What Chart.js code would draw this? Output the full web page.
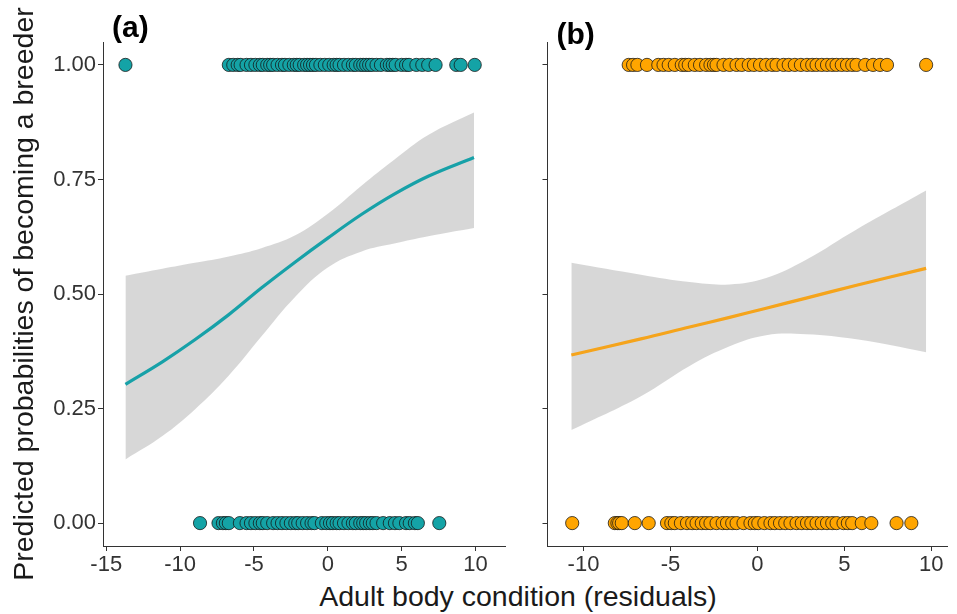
<!DOCTYPE html>
<html>
<head>
<meta charset="utf-8">
<script src="https://cdn.jsdelivr.net/npm/chart.js@4.4.0/dist/chart.umd.min.js"></script>
<style>
  body { margin: 0; background: #fff; width: 957px; height: 614px; position: relative; overflow: hidden; }
  canvas { position: absolute; top: 0; }
  #chartA { left: 0; }
  #chartB { left: 520px; }
  #xTitle {
    position: absolute; left: 268px; width: 500px; top: 582px; line-height: 28.5px;
    text-align: center; font-size: 28.5px; font-family: "Liberation Sans", Arial, sans-serif; color: #1a1a1a;
  }
</style>
</head>
<body>
<canvas id="chartA" width="515" height="580"></canvas>
<canvas id="chartB" width="437" height="580"></canvas>
<div id="xTitle">Adult body condition (residuals)</div>
<script>
// tick labels
const xTicksA = [-15, -10, -5, 0, 5, 10];
const xTicksB = [-10, -5, 0, 5, 10];
const yTicks = [0, 0.25, 0.5, 0.75, 1];

// fitted curve + confidence band, panel (a)
const fitXA = [-13.7, -11.2, -9.0, -6.7, -4.5, -2.2, 0, 2.3, 4.5, 6.8, 9.9];
const fitA = [0.303, 0.352, 0.400, 0.455, 0.513, 0.570, 0.622, 0.674, 0.718, 0.757, 0.798];
const upperA = [0.540, 0.555, 0.568, 0.582, 0.600, 0.628, 0.675, 0.737, 0.793, 0.847, 0.896];
const lowerA = [0.139, 0.190, 0.248, 0.322, 0.407, 0.494, 0.558, 0.593, 0.610, 0.626, 0.644];

// fitted curve + confidence band, panel (b)
const fitXB = [-10.7, -6.7, -3.9, -1.6, 0.5, 2.8, 5.7, 9.7];
const fitB = [0.367, 0.402, 0.428, 0.449, 0.469, 0.491, 0.519, 0.556];
const upperB = [0.568, 0.542, 0.526, 0.521, 0.535, 0.575, 0.641, 0.726];
const lowerB = [0.203, 0.277, 0.343, 0.386, 0.410, 0.412, 0.401, 0.373];

// observed body condition of breeders (1) and non-breeders (0)
const breedersA = [-13.7, -6.7, -6.4, -6.1, -5.9, -5.5, -5.2, -4.9, -4.6, -4.4, -4.1, -3.9, -3.7, -3.4, -3.1,
  -2.9, -2.6, -2.3, -2.1, -1.9, -1.6, -1.4, -1.2, -1.0, -0.8, -0.5, -0.2, 0.1, 0.4, 0.6, 0.8, 1.1, 1.4, 1.7,
  1.9, 2.2, 2.4, 2.6, 2.8, 3.0, 3.3, 3.6, 4.0, 4.2, 4.4, 4.6, 5.0, 5.3, 5.5, 6.0, 6.4, 6.8, 7.3, 8.7, 9.0, 9.95];
const nonBreedersA = [-8.65, -7.4, -7.1, -6.9, -6.7, -5.95, -5.5, -5.2, -4.9, -4.6, -4.4, -4.1, -3.7, -3.4,
  -3.1, -2.8, -2.5, -2.2, -2.0, -1.7, -1.4, -1.1, -0.9, -0.4, -0.1, 0.15, 0.35, 0.6, 0.8, 1.1, 1.4, 1.7, 1.9,
  2.2, 2.4, 2.6, 2.85, 3.05, 3.3, 3.75, 4.2, 4.55, 4.85, 5.3, 5.55, 5.9, 6.1, 7.55];
const breedersB = [-7.4, -7.15, -6.9, -6.35, -5.7, -5.4, -5.1, -4.75, -4.35, -4.15, -3.95, -3.6, -3.3, -2.95,
  -2.7, -2.5, -2.35, -1.95, -1.6, -1.2, -0.9, -0.5, -0.2, 0.15, 0.5, 0.85, 1.1, 1.5, 1.8, 2.15, 2.5, 2.85,
  3.15, 3.4, 3.7, 4.0, 4.3, 4.55, 4.85, 5.15, 5.45, 5.7, 6.2, 6.65, 7.05, 7.45, 9.7];
const nonBreedersB = [-10.65, -8.2, -8.05, -7.95, -7.8, -7.05, -6.25, -5.2, -4.95, -4.75, -4.4, -4.05, -3.75,
  -3.5, -3.2, -2.95, -2.7, -2.35, -2.0, -1.75, -1.45, -1.2, -0.8, -0.4, -0.15, 0.05, 0.4, 0.75, 1.0, 1.3, 1.6,
  1.9, 2.25, 2.55, 2.85, 3.1, 3.4, 3.7, 4.0, 4.3, 4.55, 4.95, 5.2, 5.45, 6.0, 6.55, 8.0, 8.85];

const yTitle = 'Predicted probabilities of becoming a breeder';
const FONT = '"Liberation Sans", Arial, sans-serif';

// draws "(a)" / "(b)" above the panel
const panelLabel = {
  id: 'panelLabel',
  afterDraw(chart, args, opts) {
    const ctx = chart.ctx;
    ctx.save();
    ctx.font = 'bold 30px ' + FONT;
    ctx.fillStyle = '#000';
    ctx.textBaseline = 'alphabetic';
    ctx.fillText(opts.text, chart.chartArea.left + opts.dx, opts.y);
    ctx.restore();
  }
};

function pts(xs, y) {
  return xs.map(x => ({ x: x, y: y }));
}
function line(xs, ys) {
  return xs.map((x, i) => ({ x: x, y: ys[i] }));
}

function makePanel(id, cfg) {
  const pointStyle = {
    showLine: false,
    pointRadius: 6.6,
    pointBackgroundColor: cfg.fill,
    pointBorderColor: 'rgba(20,20,20,0.85)',
    pointBorderWidth: 0.9,
    order: 1
  };
  new Chart(document.getElementById(id), {
    type: 'line',
    data: {
      datasets: [
        { data: line(cfg.fitX, cfg.fit), borderColor: cfg.lineColor, borderWidth: 3.2, pointRadius: 0,
          tension: 0.4, fill: false, order: 0 },
        Object.assign({ data: pts(cfg.ones, 1) }, pointStyle),
        Object.assign({ data: pts(cfg.zeros, 0) }, pointStyle),
        { data: line(cfg.fitX, cfg.upper), borderWidth: 0, pointRadius: 0, tension: 0.4,
          fill: '+1', backgroundColor: 'rgba(160,160,160,0.42)', order: 2 },
        { data: line(cfg.fitX, cfg.lower), borderWidth: 0, pointRadius: 0, tension: 0.4,
          fill: false, order: 3 }
      ]
    },
    options: {
      responsive: false,
      animation: false,
      layout: { padding: { top: 42, right: 10, left: 0, bottom: 0 } },
      plugins: {
        legend: { display: false },
        tooltip: { enabled: false },
        panelLabel: cfg.label
      },
      scales: {
        x: {
          type: 'linear',
          min: cfg.xMin,
          max: cfg.xMax,
          afterBuildTicks: s => { s.ticks = cfg.xTicks.map(v => ({ value: v })); },
          afterFit: s => { s.height = 34; },
          border: { display: true, color: '#333', width: 1 },
          grid: { drawOnChartArea: false, drawTicks: true, tickLength: 5, color: '#333' },
          ticks: { color: '#333', padding: 1, maxRotation: 0, font: { family: FONT, size: 22 } }
        },
        y: {
          min: -0.05,
          max: 1.05,
          afterBuildTicks: s => { s.ticks = yTicks.map(v => ({ value: v })); },
          afterFit: s => { s.width = cfg.yWidth; },
          border: { display: true, color: '#333', width: 1 },
          grid: { drawOnChartArea: false, drawTicks: true, tickLength: 5, color: '#333' },
          ticks: {
            display: cfg.showY,
            color: '#333', padding: 2, font: { family: FONT, size: 22 },
            callback: v => v.toFixed(2)
          },
          title: {
            display: cfg.showY,
            text: yTitle,
            color: '#1a1a1a',
            padding: { top: 8, bottom: 0 },
            font: { family: FONT, size: 28.5 }
          }
        }
      }
    },
    plugins: [panelLabel]
  });
}

makePanel('chartA', {
  fitX: fitXA, fit: fitA, upper: upperA, lower: lowerA,
  ones: breedersA, zeros: nonBreedersA,
  fill: '#14a3a6', lineColor: '#17a1a8',
  xMin: -15.22, xMax: 12.0, xTicks: xTicksA,
  yWidth: 103, showY: true,
  label: { text: '(a)', dx: 9, y: 37 }
});

makePanel('chartB', {
  fitX: fitXB, fit: fitB, upper: upperB, lower: lowerB,
  ones: breedersB, zeros: nonBreedersB,
  fill: '#ffa500', lineColor: '#f5a41c',
  xMin: -12.07, xMax: 10.9, xTicks: xTicksB,
  yWidth: 27.5, showY: false,
  label: { text: '(b)', dx: 9, y: 44 }
});
</script>
</body>
</html>
